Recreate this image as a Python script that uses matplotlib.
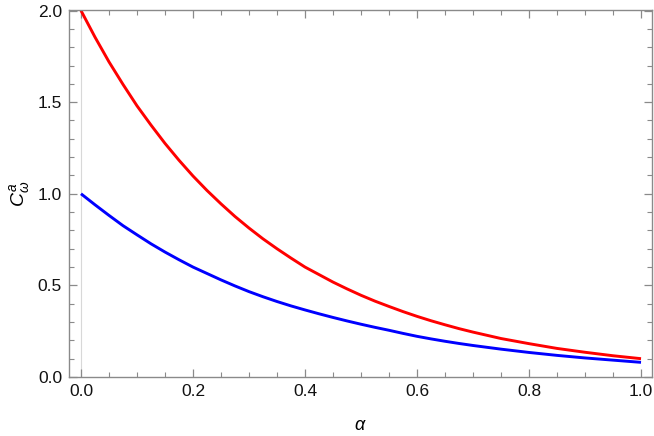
import matplotlib
matplotlib.use("Agg")
import matplotlib.pyplot as plt
from matplotlib.ticker import MultipleLocator

# values
alpha = [0.0, 0.025, 0.05, 0.075, 0.1, 0.125, 0.15, 0.175, 0.2, 0.225, 0.25,
         0.275, 0.3, 0.325, 0.35, 0.375, 0.4, 0.425, 0.45, 0.475, 0.5,
         0.525, 0.55, 0.575, 0.6, 0.625, 0.65, 0.675, 0.7,
         0.75, 0.8, 0.85, 0.9, 0.95, 1.0]
c_red = [2.00, 1.855, 1.72, 1.597, 1.48, 1.375, 1.275, 1.183, 1.097, 1.018, 0.945,
         0.876, 0.813, 0.754, 0.70, 0.649, 0.60, 0.559, 0.518, 0.481, 0.446,
         0.414, 0.385, 0.357, 0.331, 0.307, 0.285, 0.264, 0.245,
         0.21, 0.182, 0.156, 0.135, 0.116, 0.10]
c_blue = [1.00, 0.94, 0.882, 0.826, 0.776, 0.727, 0.682, 0.64, 0.60, 0.565, 0.53,
          0.497, 0.466, 0.438, 0.412, 0.388, 0.366, 0.345, 0.325, 0.306, 0.288,
          0.271, 0.255, 0.238, 0.222, 0.208, 0.195, 0.183, 0.172,
          0.152, 0.134, 0.118, 0.104, 0.092, 0.08]

xticks = [0.0, 0.2, 0.4, 0.6, 0.8, 1.0]
yticks = [0.0, 0.5, 1.0, 1.5, 2.0]

plt.rcParams['font.family'] = ['Liberation Sans', 'DejaVu Sans']
plt.rcParams['mathtext.fontset'] = 'custom'
plt.rcParams['mathtext.rm'] = 'Liberation Sans'
plt.rcParams['mathtext.it'] = 'Liberation Sans:italic'

fig = plt.figure(figsize=(6.54, 4.36), dpi=100)
ax = fig.add_axes([69/654, 1-377/436, (652-69)/654, (377-10)/436])

ax.axvline(0, color="#d8d8d8", lw=0.8, zorder=0)
ax.plot(alpha, c_red, color=(1, 0, 0), lw=2.1, solid_capstyle='butt',
        solid_joinstyle='round')
ax.plot(alpha, c_blue, color=(0, 0, 1), lw=2.1, solid_capstyle='butt',
        solid_joinstyle='round')

ax.set_xlim(-0.0214, 1.0196)
ax.set_ylim(0, 2.003)
ax.set_xticks(xticks)
ax.set_yticks(yticks)
ax.set_xticklabels(["%.1f" % v for v in xticks])
ax.set_yticklabels(["%.1f" % v for v in yticks])
ax.xaxis.set_minor_locator(MultipleLocator(0.05))
ax.yaxis.set_minor_locator(MultipleLocator(0.1))

gray = "#8a8a8a"
for s in ax.spines.values():
    s.set_color(gray)
    s.set_linewidth(1.0)
ax.tick_params(which='both', direction='in', top=True, right=True,
               color=gray, labelsize=12.5, labelcolor='#111111')
ax.tick_params(which='major', length=6, width=0.9, pad=5)
ax.tick_params(which='minor', length=3.5, width=0.8)

ax.set_xlabel(r"$\alpha$", fontsize=13, labelpad=13)
ax.set_ylabel(r"$C_{\omega}^{a}$", fontsize=14, labelpad=4)

fig.savefig("out.png", dpi=100)
